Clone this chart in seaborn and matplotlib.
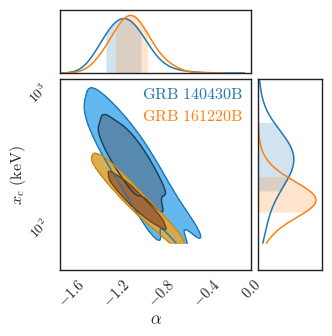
import numpy as np
import pandas as pd
import matplotlib
matplotlib.use("Agg")
import matplotlib.pyplot as plt
import seaborn as sns
from matplotlib.colors import ListedColormap
from matplotlib.ticker import FixedLocator, FixedFormatter, NullFormatter

# ---------------- data ----------------
labels = ["GRB 140430B", "GRB 161220B"]

# representative posterior points for GRB 140430B (alpha, x_c in keV, weight)
blue_alpha = [-1.45, -1.40, -1.35,
              -1.43, -1.36, -1.29,
              -1.39, -1.30, -1.21,
              -1.34, -1.24, -1.14,
              -1.29, -1.17, -1.05,
              -1.22, -1.10, -0.98,
              -1.15, -1.03, -0.91,
              -1.08, -0.96, -0.84,
              -1.03, -0.89, -0.75,
              -0.97, -0.81, -0.65,
              -0.91, -0.73, -0.55,
              -0.85, -0.65, -0.45]
blue_xc = [891, 891, 891, 708, 708, 708, 562, 562, 562, 447, 447, 447,
           355, 355, 355, 282, 282, 282, 224, 224, 224, 178, 178, 178,
           141, 141, 141, 112, 112, 112, 89, 89, 89, 71, 71, 71]
blue_w = [0.07, 0.12, 0.07, 0.10, 0.17, 0.10, 0.17, 0.28, 0.17, 0.36, 0.60, 0.36,
          0.60, 1.00, 0.60, 0.57, 0.95, 0.57, 0.42, 0.70, 0.42, 0.24, 0.40, 0.24,
          0.12, 0.20, 0.12, 0.055, 0.09, 0.055, 0.036, 0.06, 0.036, 0.03, 0.05, 0.03]

# representative posterior points for GRB 161220B
orange_alpha = [-1.42, -1.38, -1.34,
                -1.38, -1.32, -1.26,
                -1.29, -1.23, -1.17,
                -1.18, -1.12, -1.06,
                -1.07, -1.01, -0.95,
                -0.94, -0.88, -0.82,
                -0.81, -0.75, -0.69,
                -0.74, -0.69, -0.64]
orange_xc = [316, 316, 316, 251, 251, 251, 200, 200, 200, 158, 158, 158,
             126, 126, 126, 100, 100, 100, 79, 79, 79, 66, 66, 66]
orange_w = [0.04, 0.06, 0.04, 0.12, 0.20, 0.12, 0.30, 0.50, 0.30, 0.57, 0.95, 0.57,
            0.60, 1.00, 0.60, 0.27, 0.45, 0.27, 0.07, 0.12, 0.07, 0.035, 0.06, 0.035]

# 1-sigma credible intervals shaded in the marginals
blue_alpha_ci = [-1.30, -0.976]
orange_alpha_ci = [-1.214, -0.918]
blue_xc_ci = [153, 497]
orange_xc_ci = [107, 197]

# prior range of x_c (log10 keV)
logxc_range = [1.8, 3.0]

x_ticks = [-1.6, -1.2, -0.8, -0.4, 0.0]
x_ticklabels = [r"$-1.6$", r"$-1.2$", r"$-0.8$", r"$-0.4$", r"$0.0$"]
y_ticks = [100, 1000]
y_ticklabels = [r"$10^{2}$", r"$10^{3}$"]

# ---------------- style ----------------
sns.set_style("white")
plt.rcParams.update({
    "font.family": ["DejaVu Serif"],
    "mathtext.fontset": "cm",
    "axes.edgecolor": "#222222",
    "axes.linewidth": 1.0,
})

line_colors = ["#1f77b4", "#ff7f0e"]
fill_colors = [["#5ab4ef", "#4f83aa"], ["#d8ab45", "#a5652f"]]
edge_colors = [["#1f77b4", "#1a3d5c"], ["#c98a1a", "#7a4212"]]

fig = plt.figure(figsize=(3.32, 3.36), dpi=100)
ax_main = fig.add_axes([0.1816, 0.1964, 0.5753, 0.5675])
ax_top = fig.add_axes([0.1816, 0.7827, 0.5753, 0.1885])
ax_right = fig.add_axes([0.778, 0.1964, 0.191, 0.5675])

datasets = [
    (blue_alpha, blue_xc, blue_w, blue_alpha_ci, blue_xc_ci),
    (orange_alpha, orange_xc, orange_w, orange_alpha_ci, orange_xc_ci),
]
levels = [0.05, 0.32, 1.0]

for i, (a, xc, w, aci, xci) in enumerate(datasets):
    df = pd.DataFrame({"alpha": np.asarray(a, float),
                       "xc": np.asarray(xc, float),
                       "w": np.asarray(w, float)})
    # density per keV (linear x_c) shown on the logarithmic axis
    df["wlin"] = df["w"] / df["xc"]
    clip2 = ((None, None), tuple(logxc_range))
    # 2D contours
    sns.kdeplot(data=df, x="alpha", y="xc", weights="wlin",
                log_scale=(False, True), fill=True, levels=levels,
                cmap=ListedColormap(fill_colors[i]), alpha=0.95,
                clip=clip2, gridsize=150, bw_adjust=0.9, ax=ax_main)
    sns.kdeplot(data=df, x="alpha", y="xc", weights="wlin",
                log_scale=(False, True), fill=False, levels=levels[:2],
                cmap=ListedColormap(edge_colors[i]), linewidths=1.0,
                clip=clip2, gridsize=150, bw_adjust=0.9, ax=ax_main)
    # top marginal
    sns.kdeplot(data=df, x="alpha", weights="w", color=line_colors[i],
                lw=1.1, ax=ax_top)
    ln = ax_top.lines[-1]
    xx, yy = ln.get_xdata(), ln.get_ydata()
    m = (xx >= aci[0]) & (xx <= aci[1])
    ax_top.fill_between(xx[m], 0, yy[m], color=line_colors[i], alpha=0.2, lw=0)
    # right marginal (density per keV)
    sns.kdeplot(data=df, y="xc", weights="wlin", color=line_colors[i],
                lw=1.1, log_scale=True, clip=tuple(logxc_range), ax=ax_right)
    ln = ax_right.lines[-1]
    dd, yy = ln.get_xdata(), ln.get_ydata()
    m = (yy >= xci[0]) & (yy <= xci[1])
    ax_right.fill_betweenx(yy[m], 0, dd[m], color=line_colors[i], alpha=0.2, lw=0)

# limits
xlim = (-1.7, 0.0)
ylim = (40, 1025)
ax_main.set_xlim(*xlim)
ax_main.set_ylim(*ylim)
ax_top.set_xlim(*xlim)
ax_right.set_ylim(*ylim)
ax_top.set_ylim(0, 1.1 * max(l.get_ydata().max() for l in ax_top.lines))
ax_right.set_xlim(0, 1.1 * max(l.get_xdata().max() for l in ax_right.lines))

# ticks
ax_main.xaxis.set_major_locator(FixedLocator(x_ticks))
ax_main.xaxis.set_major_formatter(FixedFormatter(x_ticklabels))
ax_main.yaxis.set_major_locator(FixedLocator(y_ticks))
ax_main.yaxis.set_major_formatter(FixedFormatter(y_ticklabels))
ax_main.yaxis.set_minor_locator(FixedLocator([v * d for d in (10, 100)
                                              for v in range(2, 10)]))
ax_main.yaxis.set_minor_formatter(NullFormatter())
ax_main.tick_params(which="major", direction="in", length=5.5, width=1.0,
                    color="#222222", labelsize=10.5)
ax_main.tick_params(axis="x", which="major", pad=5)
ax_main.tick_params(axis="y", which="major", pad=6, labelsize=10)
ax_main.tick_params(which="minor", direction="in", length=2.0, width=0.8,
                    color="#222222")
for t in ax_main.get_xticklabels():
    t.set_rotation(45)
    t.set_ha("center")
    t.set_va("top")
for t in ax_main.get_yticklabels():
    t.set_rotation(45)
    t.set_ha("right")
    t.set_va("top")

for ax in (ax_top, ax_right):
    ax.tick_params(which="both", left=False, bottom=False, labelleft=False,
                   labelbottom=False)
    ax.set_xlabel("")
    ax.set_ylabel("")
ax_right.yaxis.set_minor_formatter(NullFormatter())
ax_right.yaxis.set_major_formatter(NullFormatter())

ax_main.set_xlabel(r"$\alpha$", fontsize=12, va="top")
ax_main.set_ylabel(r"$x_{\rm c}\ (\mathrm{keV})$", fontsize=11.5)
ax_main.xaxis.set_label_coords(0.5, -0.215)
ax_main.yaxis.set_label_coords(-0.169, 0.5)

for s in list(ax_main.spines.values()) + list(ax_top.spines.values()) + \
        list(ax_right.spines.values()):
    s.set_visible(True)
    s.set_color("#222222")
    s.set_linewidth(1.0)

ax_main.text(0.957, 0.898, r"$\mathrm{GRB\ 140430B}$", color=line_colors[0],
             fontsize=11.6, ha="right", va="baseline", transform=ax_main.transAxes)
ax_main.text(0.957, 0.783, r"$\mathrm{GRB\ 161220B}$", color=line_colors[1],
             fontsize=11.6, ha="right", va="baseline", transform=ax_main.transAxes)

fig.savefig("out.png", dpi=100)
